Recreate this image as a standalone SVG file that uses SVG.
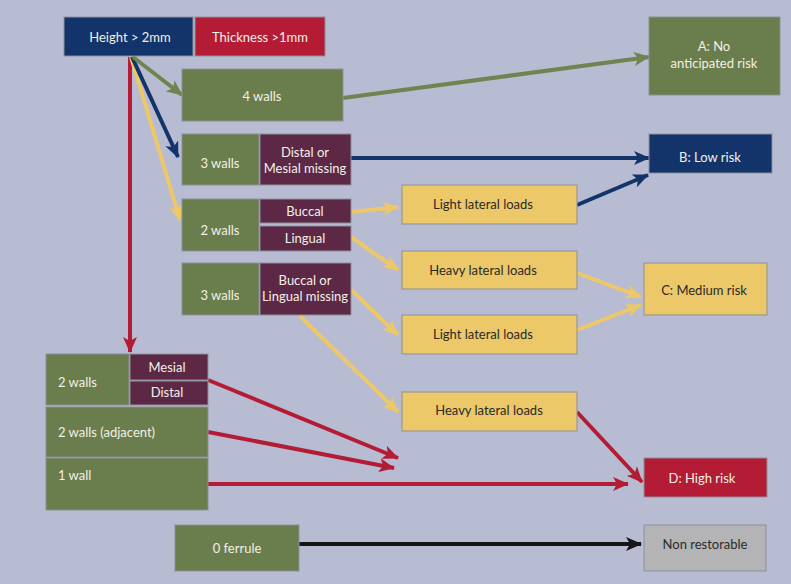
<svg xmlns="http://www.w3.org/2000/svg" width="791" height="584" viewBox="0 0 791 584">
<defs>
<style>
text{font-family:Lato,"Open Sans","Liberation Sans",sans-serif;font-size:13px;text-anchor:middle;dominant-baseline:central}
.lt{fill:#f3f0e6}
.dk{fill:#2a2a2a}
.l{text-anchor:start}
.navy{fill:#12346a}
.red{fill:#b31c34}
.grn{fill:#6a7d4c}
.pur{fill:#5c2846}
.yel{fill:#ecc868}
.gry{fill:#b4b4b6}
.box{stroke:#8c8f98;stroke-width:1}
.c{fill:none;stroke-width:4}
</style>
<marker id="mN" markerUnits="userSpaceOnUse" markerWidth="16" markerHeight="14" refX="15" refY="7" orient="auto"><path d="M0,0 L16,7 L0,14 L4,7 z" fill="#12346a"/></marker>
<marker id="mR" markerUnits="userSpaceOnUse" markerWidth="16" markerHeight="14" refX="15" refY="7" orient="auto"><path d="M0,0 L16,7 L0,14 L4,7 z" fill="#b31c34"/></marker>
<marker id="mG" markerUnits="userSpaceOnUse" markerWidth="16" markerHeight="14" refX="15" refY="7" orient="auto"><path d="M0,0 L16,7 L0,14 L4,7 z" fill="#6f8450"/></marker>
<marker id="mY" markerUnits="userSpaceOnUse" markerWidth="16" markerHeight="14" refX="15" refY="7" orient="auto"><path d="M0,0 L16,7 L0,14 L4,7 z" fill="#ecc868"/></marker>
<marker id="mK" markerUnits="userSpaceOnUse" markerWidth="16" markerHeight="14" refX="15" refY="7" orient="auto"><path d="M0,0 L16,7 L0,14 L4,7 z" fill="#161616"/></marker>
</defs>
<rect x="0" y="0" width="791" height="584" fill="#b8bcd3"/>

<g id="connectors">
<line class="c" x1="130" y1="57" x2="130" y2="352" stroke="#b31c34" marker-end="url(#mR)"/>
<line class="c" x1="131" y1="57" x2="180" y2="220" stroke="#ecc868" marker-end="url(#mY)"/>
<line class="c" x1="132" y1="57" x2="178" y2="157" stroke="#12346a" marker-end="url(#mN)"/>
<line class="c" x1="133" y1="57" x2="182" y2="95" stroke="#6f8450" marker-end="url(#mG)"/>
<line class="c" x1="343" y1="98" x2="649" y2="57" stroke="#6f8450" marker-end="url(#mG)"/>
<line class="c" x1="351" y1="158" x2="649" y2="158" stroke="#12346a" marker-end="url(#mN)"/>
<line class="c" x1="577" y1="205" x2="648" y2="175" stroke="#12346a" marker-end="url(#mN)"/>
<line class="c" x1="351" y1="212" x2="398" y2="207" stroke="#ecc868" marker-end="url(#mY)"/>
<line class="c" x1="351" y1="237" x2="398" y2="270" stroke="#ecc868" marker-end="url(#mY)"/>
<line class="c" x1="351" y1="290" x2="398" y2="335" stroke="#ecc868" marker-end="url(#mY)"/>
<line class="c" x1="300" y1="316" x2="398" y2="412" stroke="#ecc868" marker-end="url(#mY)"/>
<line class="c" x1="577" y1="273" x2="641" y2="297" stroke="#ecc868" marker-end="url(#mY)"/>
<line class="c" x1="577" y1="330" x2="641" y2="305" stroke="#ecc868" marker-end="url(#mY)"/>
<line class="c" x1="577" y1="412" x2="642" y2="482" stroke="#b31c34" marker-end="url(#mR)"/>
<line class="c" x1="208" y1="380" x2="398" y2="458" stroke="#b31c34" marker-end="url(#mR)"/>
<line class="c" x1="208" y1="432" x2="394" y2="468" stroke="#b31c34" marker-end="url(#mR)"/>
<line class="c" x1="208" y1="484" x2="628" y2="484" stroke="#b31c34" marker-end="url(#mR)"/>
<line class="c" x1="299" y1="544" x2="641" y2="544" stroke="#161616" marker-end="url(#mK)"/>
</g>

<g id="height"><rect class="box navy" x="64" y="17" width="129" height="39"/><text class="lt" x="130" y="37">Height &gt; 2mm</text></g>
<g id="thickness"><rect class="box red" x="195" y="17" width="130" height="39"/><text class="lt" x="260" y="37">Thickness &gt;1mm</text></g>

<g id="walls4"><rect class="box grn" x="182" y="69" width="161" height="52"/><text class="lt" x="262" y="96">4 walls</text></g>

<g id="walls3a"><rect class="box grn" x="182" y="134" width="77" height="51"/><text class="lt" x="220" y="163">3 walls</text></g>
<g id="distal-mesial"><rect class="box pur" x="260" y="134" width="91" height="51"/><text class="lt" x="305" y="152">Distal or</text><text class="lt" x="305" y="168">Mesial missing</text></g>

<g id="walls2a"><rect class="box grn" x="182" y="199" width="77" height="52"/><text class="lt" x="220" y="230">2 walls</text></g>
<g id="buccal"><rect class="box pur" x="260" y="199" width="91" height="24"/><text class="lt" x="305" y="211">Buccal</text></g>
<g id="lingual"><rect class="box pur" x="260" y="226" width="91" height="25"/><text class="lt" x="305" y="238">Lingual</text></g>

<g id="walls3b"><rect class="box grn" x="182" y="263" width="77" height="52"/><text class="lt" x="220" y="295">3 walls</text></g>
<g id="buccal-lingual"><rect class="box pur" x="260" y="263" width="91" height="52"/><text class="lt" x="305" y="280">Buccal or</text><text class="lt" x="305" y="296">Lingual missing</text></g>

<g id="light1"><rect class="box yel" x="402" y="185" width="175" height="39"/><text class="dk" x="483" y="204">Light lateral loads</text></g>
<g id="heavy1"><rect class="box yel" x="402" y="251" width="175" height="38"/><text class="dk" x="483" y="270">Heavy lateral loads</text></g>
<g id="light2"><rect class="box yel" x="402" y="315" width="175" height="39"/><text class="dk" x="483" y="334">Light lateral loads</text></g>
<g id="heavy2"><rect class="box yel" x="402" y="392" width="175" height="39"/><text class="dk" x="489" y="410">Heavy lateral loads</text></g>

<g id="walls2b"><rect class="box grn" x="46" y="354" width="83" height="51"/><text class="lt l" x="58" y="382">2 walls</text></g>
<g id="mesial"><rect class="box pur" x="130" y="354" width="78" height="26"/><text class="lt" x="167" y="367">Mesial</text></g>
<g id="distal"><rect class="box pur" x="130" y="381" width="78" height="24"/><text class="lt" x="167" y="392">Distal</text></g>
<g id="walls2adj"><rect class="box grn" x="46" y="407" width="162" height="50"/><text class="lt l" x="58" y="432">2 walls (adjacent)</text></g>
<g id="wall1"><rect class="box grn" x="46" y="458" width="162" height="52"/><text class="lt l" x="58" y="475">1 wall</text></g>

<g id="riskA"><rect class="box grn" x="649" y="17" width="131" height="78"/><text class="lt" x="714" y="46">A: No</text><text class="lt" x="714" y="63">anticipated risk</text></g>
<g id="riskB"><rect class="box navy" x="649" y="134" width="123" height="39"/><text class="lt" x="710" y="157">B: Low risk</text></g>
<g id="riskC"><rect class="box yel" x="644" y="263" width="123" height="52"/><text class="dk" x="704" y="290">C: Medium risk</text></g>
<g id="riskD"><rect class="box red" x="644" y="458" width="123" height="39"/><text class="lt" x="702" y="478">D: High risk</text></g>

<g id="ferrule0"><rect class="box grn" x="175" y="525" width="124" height="46"/><text class="lt" x="237" y="548">0 ferrule</text></g>
<g id="nonrestorable"><rect class="box gry" x="644" y="525" width="122" height="46"/><text class="dk" x="705" y="544">Non restorable</text></g>
</svg>
